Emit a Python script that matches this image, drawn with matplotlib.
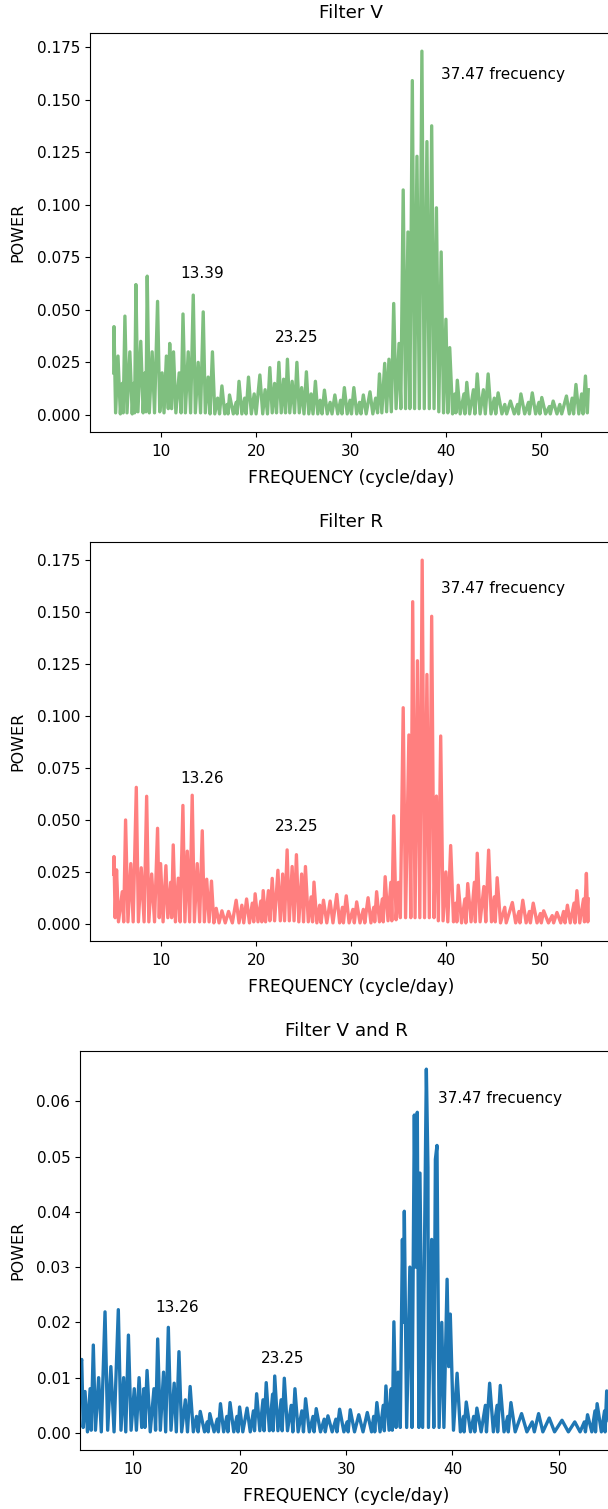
import numpy as np
import matplotlib
matplotlib.use('Agg')
import matplotlib.pyplot as plt

# periodogram: (frequency c/d, power), peaks and troughs in turn
v_points = [
    (5.0, 0.020), (5.03, 0.042), (5.2, 0.001), (5.45, 0.028), (5.7, 0.0005), (5.9, 0.015),
    (6.0, 0.001), (6.18, 0.047), (6.4, 0.001), (6.7, 0.030), (6.95, 0.0005), (7.1, 0.015),
    (7.2, 0.001), (7.34, 0.062), (7.55, 0.0015), (7.85, 0.035), (8.1, 0.001), (8.3, 0.020),
    (8.4, 0.0015), (8.53, 0.066), (8.75, 0.001), (9.05, 0.030), (9.3, 0.001), (9.62, 0.054),
    (9.85, 0.0015), (10.1, 0.020), (10.3, 0.001), (10.55, 0.028), (10.75, 0.003), (10.9, 0.034),
    (11.1, 0.003), (11.3, 0.030), (11.55, 0.001), (11.9, 0.020), (12.1, 0.001), (12.3, 0.048),
    (12.55, 0.001), (12.85, 0.030), (13.1, 0.001), (13.38, 0.057), (13.6, 0.001), (13.9, 0.025),
    (14.15, 0.001), (14.43, 0.049), (14.65, 0.001), (14.95, 0.018), (15.15, 0.0005), (15.4, 0.030),
    (15.65, 0.0005), (15.95, 0.008), (16.15, 0.0005), (16.4, 0.0138), (16.7, 0.0005), (16.95, 0.005),
    (17.05, 0.0005), (17.2, 0.0095), (17.6, 0.0005), (17.9, 0.006), (18.0, 0.0005), (18.2, 0.016),
    (18.5, 0.0005), (18.8, 0.008), (18.95, 0.0005), (19.2, 0.018), (19.5, 0.0005), (19.8, 0.010),
    (20.0, 0.0005), (20.4, 0.019), (20.7, 0.0005), (20.95, 0.012), (21.2, 0.0005), (21.45, 0.0225),
    (21.7, 0.001), (21.95, 0.015), (22.15, 0.001), (22.4, 0.025), (22.65, 0.001), (22.9, 0.017),
    (23.1, 0.001), (23.3, 0.0265), (23.55, 0.001), (23.8, 0.016), (24.05, 0.001), (24.3, 0.025),
    (24.55, 0.001), (24.8, 0.013), (25.05, 0.0005), (25.3, 0.0205), (25.55, 0.0005), (25.8, 0.010),
    (26.0, 0.0005), (26.25, 0.016), (26.5, 0.0005), (26.75, 0.007), (26.95, 0.0005), (27.2, 0.0118),
    (27.5, 0.0005), (27.8, 0.006), (28.0, 0.0005), (28.3, 0.0095), (28.6, 0.0005), (28.9, 0.007),
    (29.05, 0.0005), (29.3, 0.013), (29.6, 0.0005), (29.9, 0.007), (30.05, 0.0005), (30.3, 0.013),
    (30.6, 0.0005), (30.9, 0.006), (31.05, 0.0005), (31.3, 0.0095), (31.6, 0.0005), (32.0, 0.011),
    (32.3, 0.0005), (32.6, 0.008), (32.8, 0.001), (33.0, 0.0195), (33.25, 0.001), (33.55, 0.0245),
    (33.75, 0.0015), (34.0, 0.0265), (34.25, 0.0015), (34.5, 0.053), (34.75, 0.003), (35.06, 0.034),
    (35.25, 0.003), (35.5, 0.107), (35.75, 0.003), (36.0, 0.087), (36.2, 0.003), (36.46, 0.159),
    (36.7, 0.003), (36.95, 0.123), (37.2, 0.003), (37.47, 0.173), (37.72, 0.003), (38.0, 0.130),
    (38.25, 0.003), (38.5, 0.1375), (38.75, 0.003), (39.0, 0.0985), (39.25, 0.0015), (39.5, 0.0775),
    (39.75, 0.001), (40.0, 0.0455), (40.2, 0.001), (40.4, 0.032), (40.7, 0.0005), (40.95, 0.010),
    (41.05, 0.001), (41.2, 0.0165), (41.5, 0.0005), (41.9, 0.010), (42.0, 0.0005), (42.2, 0.0155),
    (42.5, 0.0005), (42.9, 0.012), (43.05, 0.0005), (43.3, 0.0195), (43.6, 0.0005), (43.95, 0.012),
    (44.15, 0.0005), (44.45, 0.0195), (44.75, 0.0005), (45.1, 0.008), (45.25, 0.0005), (45.5, 0.0105),
    (45.9, 0.0005), (46.2, 0.005), (46.4, 0.0005), (46.8, 0.0066), (47.2, 0.0005), (47.55, 0.005),
    (47.65, 0.0005), (47.9, 0.010), (48.3, 0.0005), (48.7, 0.006), (48.8, 0.0005), (49.1, 0.0105),
    (49.45, 0.0005), (49.8, 0.006), (49.9, 0.0005), (50.1, 0.0083), (50.5, 0.0005), (50.9, 0.004),
    (51.0, 0.0005), (51.3, 0.0066), (51.7, 0.0005), (52.0, 0.005), (52.2, 0.0005), (52.7, 0.009),
    (53.0, 0.0005), (53.3, 0.008), (53.45, 0.0005), (53.7, 0.0145), (54.0, 0.0005), (54.3, 0.010),
    (54.45, 0.0005), (54.7, 0.0185), (54.9, 0.001), (55.0, 0.012),
]

r_points = [
    (5.0, 0.024), (5.03, 0.0324), (5.15, 0.003), (5.3, 0.026), (5.5, 0.001), (5.9, 0.0155),
    (6.05, 0.001), (6.25, 0.050), (6.5, 0.001), (6.8, 0.029), (7.05, 0.001), (7.38, 0.0657),
    (7.6, 0.001), (7.9, 0.027), (8.2, 0.001), (8.47, 0.0614), (8.7, 0.001), (9.0, 0.024),
    (9.3, 0.001), (9.62, 0.046), (9.8, 0.003), (9.94, 0.029), (10.2, 0.001), (10.5, 0.028),
    (10.7, 0.003), (11.0, 0.020), (11.1, 0.003), (11.27, 0.038), (11.5, 0.001), (11.8, 0.022),
    (12.0, 0.001), (12.29, 0.057), (12.5, 0.001), (12.75, 0.035), (13.0, 0.001), (13.27, 0.0619),
    (13.5, 0.001), (13.8, 0.029), (14.05, 0.001), (14.33, 0.0448), (14.55, 0.001), (14.8, 0.0215),
    (15.05, 0.001), (15.3, 0.0206), (15.55, 0.0005), (15.8, 0.0075), (16.1, 0.0005), (16.4, 0.0063),
    (16.75, 0.0005), (17.1, 0.006), (17.5, 0.0005), (17.9, 0.0114), (18.2, 0.0005), (18.5, 0.009),
    (18.7, 0.0005), (19.0, 0.012), (19.3, 0.0005), (19.6, 0.010), (19.75, 0.001), (19.9, 0.0145),
    (20.2, 0.001), (20.5, 0.011), (20.6, 0.001), (20.75, 0.016), (21.0, 0.001), (21.3, 0.016),
    (21.45, 0.0015), (21.7, 0.0219), (21.95, 0.0015), (22.3, 0.0258), (22.55, 0.0015), (22.8, 0.024),
    (23.0, 0.0015), (23.27, 0.0356), (23.5, 0.0015), (23.8, 0.0276), (24.0, 0.0015), (24.25, 0.0333),
    (24.5, 0.001), (24.8, 0.024), (25.0, 0.001), (25.2, 0.0276), (25.5, 0.001), (25.8, 0.013),
    (25.95, 0.001), (26.1, 0.0201), (26.4, 0.0005), (26.7, 0.009), (26.85, 0.0005), (27.1, 0.0114),
    (27.45, 0.0005), (27.8, 0.011), (28.1, 0.0005), (28.5, 0.0142), (28.8, 0.0005), (29.1, 0.008),
    (29.2, 0.0005), (29.5, 0.0135), (29.8, 0.0005), (30.2, 0.007), (30.35, 0.0005), (30.6, 0.0106),
    (30.95, 0.0005), (31.3, 0.007), (31.45, 0.0005), (31.8, 0.0126), (32.1, 0.0005), (32.4, 0.008),
    (32.5, 0.001), (32.7, 0.0155), (33.0, 0.001), (33.3, 0.012), (33.4, 0.001), (33.6, 0.0227),
    (33.9, 0.0015), (34.2, 0.020), (34.3, 0.0015), (34.5, 0.052), (34.75, 0.002), (35.0, 0.020),
    (35.2, 0.003), (35.5, 0.104), (35.75, 0.003), (36.1, 0.0909), (36.3, 0.003), (36.5, 0.155),
    (36.75, 0.003), (37.0, 0.1266), (37.25, 0.003), (37.5, 0.175), (37.75, 0.003), (38.0, 0.120),
    (38.25, 0.003), (38.5, 0.148), (38.75, 0.003), (39.0, 0.0615), (39.2, 0.0015), (39.45, 0.0904),
    (39.7, 0.0015), (40.0, 0.025), (40.2, 0.001), (40.5, 0.0377), (40.8, 0.001), (41.05, 0.010),
    (41.15, 0.001), (41.3, 0.0186), (41.65, 0.0005), (42.0, 0.012), (42.1, 0.0005), (42.3, 0.0194),
    (42.65, 0.001), (43.0, 0.020), (43.1, 0.001), (43.3, 0.034), (43.6, 0.001), (44.0, 0.018),
    (44.2, 0.001), (44.5, 0.0355), (44.8, 0.001), (45.1, 0.013), (45.2, 0.001), (45.4, 0.0222),
    (45.75, 0.0005), (46.2, 0.008), (46.35, 0.0005), (47.0, 0.0103), (47.35, 0.0005), (47.7, 0.006),
    (47.8, 0.0005), (48.1, 0.0114), (48.45, 0.0005), (48.8, 0.006), (48.9, 0.0005), (49.2, 0.010),
    (49.6, 0.0005), (49.95, 0.005), (50.05, 0.0005), (50.3, 0.0063), (50.8, 0.0005), (51.2, 0.004),
    (51.35, 0.0005), (51.7, 0.0055), (52.1, 0.0005), (52.4, 0.006), (52.55, 0.0005), (52.8, 0.009),
    (53.1, 0.0005), (53.5, 0.010), (53.6, 0.0005), (53.8, 0.016), (54.1, 0.0005), (54.5, 0.012),
    (54.6, 0.001), (54.8, 0.0243), (54.95, 0.001), (55.0, 0.012),
]

vr_points = [
    (5.0, 0.012), (5.16, 0.0133), (5.3, 0.001), (5.47, 0.0075), (5.7, 0.0002), (5.95, 0.008),
    (6.05, 0.0005), (6.25, 0.0159), (6.45, 0.0005), (6.75, 0.010), (7.0, 0.0002), (7.35, 0.0219),
    (7.6, 0.0005), (7.9, 0.012), (8.2, 0.0002), (8.6, 0.0223), (8.85, 0.0005), (9.1, 0.010),
    (9.3, 0.0002), (9.55, 0.0177), (9.8, 0.0005), (10.1, 0.008), (10.3, 0.0005), (10.55, 0.010),
    (10.8, 0.001), (11.0, 0.008), (11.1, 0.001), (11.3, 0.0113), (11.6, 0.0002), (11.95, 0.008),
    (12.1, 0.0005), (12.3, 0.017), (12.55, 0.0005), (12.85, 0.011), (13.05, 0.0002), (13.3, 0.0191),
    (13.55, 0.0005), (13.85, 0.009), (14.05, 0.0002), (14.3, 0.0147), (14.55, 0.0002), (14.9, 0.006),
    (15.1, 0.0002), (15.35, 0.0084), (15.65, 0.0002), (15.95, 0.003), (16.1, 0.0002), (16.3, 0.0039),
    (16.7, 0.0002), (16.95, 0.002), (17.05, 0.0002), (17.2, 0.0035), (17.6, 0.0002), (17.9, 0.0025),
    (18.0, 0.0002), (18.2, 0.0053), (18.5, 0.0002), (18.8, 0.003), (18.9, 0.0002), (19.1, 0.0055),
    (19.45, 0.0002), (19.75, 0.003), (19.85, 0.0002), (20.0, 0.0047), (20.3, 0.0002), (20.7, 0.0045),
    (21.0, 0.0002), (21.3, 0.004), (21.4, 0.0004), (21.6, 0.0071), (21.9, 0.0004), (22.2, 0.006),
    (22.3, 0.0004), (22.5, 0.0091), (22.8, 0.0004), (23.1, 0.007), (23.15, 0.0004), (23.3, 0.0103),
    (23.6, 0.0004), (23.9, 0.006), (24.0, 0.0004), (24.2, 0.0099), (24.5, 0.0004), (24.85, 0.005),
    (25.0, 0.0002), (25.2, 0.008), (25.5, 0.0002), (25.85, 0.004), (26.0, 0.0002), (26.2, 0.0062),
    (26.55, 0.0002), (26.9, 0.003), (27.0, 0.0002), (27.2, 0.0044), (27.6, 0.0002), (27.95, 0.0025),
    (28.05, 0.0002), (28.3, 0.0031), (28.7, 0.0002), (29.05, 0.0025), (29.15, 0.0002), (29.4, 0.0043),
    (29.8, 0.0002), (30.1, 0.002), (30.2, 0.0002), (30.4, 0.0042), (30.8, 0.0002), (31.2, 0.0033),
    (31.6, 0.0002), (32.0, 0.0037), (32.4, 0.0002), (32.6, 0.003), (32.7, 0.0002), (32.9, 0.0055),
    (33.2, 0.0002), (33.5, 0.005), (33.6, 0.0004), (33.75, 0.0085), (34.05, 0.0005), (34.25, 0.008),
    (34.35, 0.0005), (34.5, 0.0201), (34.7, 0.001), (34.9, 0.011), (35.1, 0.001), (35.3, 0.035),
    (35.4, 0.020), (35.48, 0.0401), (35.7, 0.001), (36.0, 0.030), (36.2, 0.001), (36.42, 0.0575),
    (36.55, 0.030), (36.7, 0.058), (36.85, 0.001), (36.95, 0.047), (37.2, 0.001), (37.55, 0.0658),
    (37.7, 0.048), (37.75, 0.001), (38.05, 0.035), (38.25, 0.001), (38.4, 0.0495), (38.55, 0.052),
    (38.75, 0.001), (39.0, 0.020), (39.2, 0.001), (39.5, 0.0278), (39.65, 0.012), (39.8, 0.0215),
    (40.1, 0.0005), (40.44, 0.0108), (40.75, 0.0002), (41.05, 0.003), (41.1, 0.0002), (41.3, 0.0056),
    (41.7, 0.0002), (42.0, 0.003), (42.1, 0.0002), (42.3, 0.0045), (42.7, 0.0002), (43.1, 0.005),
    (43.2, 0.0002), (43.5, 0.009), (43.85, 0.0002), (44.2, 0.005), (44.25, 0.0002), (44.5, 0.0086),
    (44.85, 0.0002), (45.2, 0.003), (45.25, 0.0002), (45.5, 0.0055), (45.9, 0.0002), (46.5, 0.0035),
    (47.0, 0.0002), (47.5, 0.002), (47.7, 0.0002), (48.1, 0.0035), (48.5, 0.0002), (49.1, 0.0027),
    (49.6, 0.0002), (50.3, 0.0023), (50.9, 0.0002), (51.5, 0.002), (52.0, 0.0002), (52.4, 0.002),
    (52.5, 0.0002), (52.7, 0.0033), (53.1, 0.0002), (53.4, 0.004), (53.45, 0.0002), (53.6, 0.0053),
    (54.0, 0.0002), (54.3, 0.004), (54.35, 0.0002), (54.5, 0.0076), (54.8, 0.0002), (55.0, 0.006),
]

# labels for each panel: (freq, power, text)
v_notes = [(12.0, 0.065, '13.39'), (22.0, 0.0345, '23.25'), (39.5, 0.160, '37.47 frecuency')]
r_notes = [(12.0, 0.068, '13.26'), (22.0, 0.0445, '23.25'), (39.5, 0.159, '37.47 frecuency')]
vr_notes = [(12.1, 0.0218, '13.26'), (22.0, 0.0126, '23.25'), (38.6, 0.0597, '37.47 frecuency')]

plt.rcParams['font.size'] = 11

fig = plt.figure(figsize=(6.08, 15.09), dpi=100)

panels = [
    ('Filter V', v_points, v_notes, dict(color='g', alpha=0.5), [0.148, 0.7137, 0.8586, 0.2644], None),
    ('Filter R', r_points, r_notes, dict(color='r', alpha=0.5), [0.148, 0.3764, 0.8586, 0.2644], None),
    ('Filter V and R', vr_points, vr_notes, dict(color='C0'), [0.1316, 0.0391, 0.875, 0.2644], (5, 55)),
]

for title, pts, notes, style, rect, xlim in panels:
    ax = fig.add_axes(rect)
    freq = np.array([p[0] for p in pts])
    power = np.array([p[1] for p in pts])
    ax.plot(freq, power, linewidth=2.4, **style)
    if xlim is not None:
        ax.set_xlim(*xlim)
    for x, y, s in notes:
        ax.text(x, y, s)
    ax.tick_params(axis='x', pad=5)
    ax.set_title(title, pad=11)
    ax.set_xlabel('FREQUENCY (cycle/day)', fontsize=12.4, labelpad=7)
    ax.set_ylabel('POWER', fontsize=11.5, labelpad=8)

fig.savefig('out.png', dpi=100)
